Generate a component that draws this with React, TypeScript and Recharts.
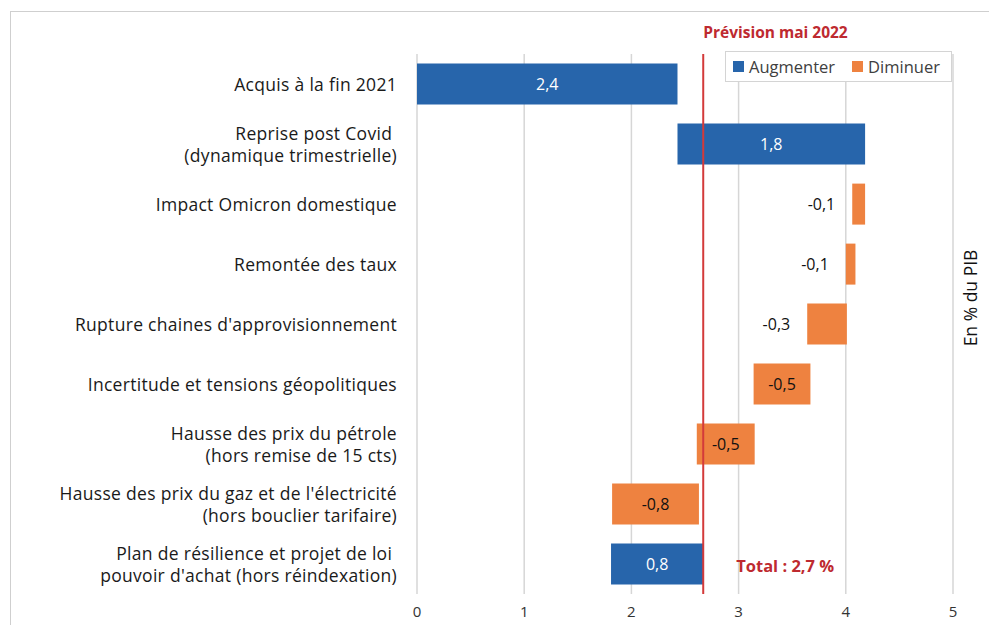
import React from "react";
import {
  BarChart,
  Bar,
  XAxis,
  YAxis,
  CartesianGrid,
  ReferenceLine,
  LabelList,
  Cell,
} from "recharts";

// contributions à la croissance 2022 (en % du PIB)
const categories = [
  "Acquis à la fin 2021",
  "Reprise post Covid \n(dynamique trimestrielle)",
  "Impact Omicron domestique",
  "Remontée des taux",
  "Rupture chaines d'approvisionnement",
  "Incertitude et tensions géopolitiques",
  "Hausse des prix du pétrole\n(hors remise de 15 cts)",
  "Hausse des prix du gaz et de l'électricité\n(hors bouclier tarifaire)",
  "Plan de résilience et projet de loi \npouvoir d'achat (hors réindexation)",
];
const barStart = [0, 2.43, 4.18, 4.09, 4.01, 3.67, 3.15, 2.63, 1.81];
const barEnd = [2.43, 4.18, 4.06, 4.0, 3.64, 3.14, 2.61, 1.82, 2.67];
const valueLabels = ["2,4", "1,8", "-0,1", "-0,1", "-0,3", "-0,5", "-0,5", "-0,8", "0,8"];
const kinds = [
  "Augmenter",
  "Augmenter",
  "Diminuer",
  "Diminuer",
  "Diminuer",
  "Diminuer",
  "Diminuer",
  "Diminuer",
  "Augmenter",
];
const xTicks = [0, 1, 2, 3, 4, 5];
const forecast = 2.67;
const forecastLabel = "Prévision mai 2022";
const totalLabel = "Total : 2,7 %";
const unitLabel = "En % du PIB";

const COLORS: Record<string, string> = { Augmenter: "#2765AB", Diminuer: "#EE8240" };
const RED = "#BE2A30";
const FONT = "'Open Sans', sans-serif";

const data = categories.map((name, i) => ({
  name,
  range: [Math.min(barStart[i], barEnd[i]), Math.max(barStart[i], barEnd[i])],
  kind: kinds[i],
}));

const CategoryTick = (props: any) => {
  const { x, y, payload } = props;
  const lines = String(payload.value).split("\n");
  const lh = 21.5;
  const y0 = y + 1 - ((lines.length - 1) * lh) / 2;
  return (
    <text
      x={x}
      y={y0}
      textAnchor="end"
      fontSize={17.5}
      fontWeight={500}
      letterSpacing={0.3}
      fill="#1a1a1a"
      fontFamily={FONT}
    >
      {lines.map((l, i) => (
        <tspan key={i} x={x} dy={i === 0 ? "0.35em" : lh}>
          {l}
        </tspan>
      ))}
    </text>
  );
};

const ValueLabel = (props: any) => {
  const { x, y, width, height, index } = props;
  const w = Math.abs(width);
  const left = Math.min(x, x + width);
  const inside = w > 45;
  const white = kinds[index] === "Augmenter";
  return (
    <text
      x={inside ? left + w / 2 : left - 17}
      y={y + height / 2}
      dy="0.35em"
      textAnchor={inside ? "middle" : "end"}
      fontSize={16}
      fontFamily={FONT}
      fill={inside && white ? "#ffffff" : "#111111"}
    >
      {valueLabels[index]}
    </text>
  );
};

const ForecastLabel = (props: any) => {
  const { viewBox } = props;
  return (
    <text
      x={viewBox.x}
      y={viewBox.y - 21}
      dy="0.35em"
      fontSize={15.5}
      fontWeight={700}
      fill={RED}
      fontFamily={FONT}
    >
      {forecastLabel}
    </text>
  );
};

const TotalLabel = (props: any) => {
  const { viewBox } = props;
  return (
    <text
      x={viewBox.x + 33}
      y={viewBox.y + viewBox.height - 28}
      dy="0.35em"
      fontSize={16.5}
      fontWeight={700}
      fill={RED}
      fontFamily={FONT}
    >
      {totalLabel}
    </text>
  );
};

const LegendBox = () => (
  <div
    style={{
      position: "absolute",
      left: 725,
      top: 51,
      width: 227,
      height: 31,
      boxSizing: "border-box",
      display: "flex",
      alignItems: "center",
      border: "1.5px solid #d4d4d4",
      background: "#fff",
      paddingLeft: 7,
      fontFamily: FONT,
      fontSize: 16.5,
      color: "#404040",
    }}
  >
    {["Augmenter", "Diminuer"].map((k, i) => (
      <span key={k} style={{ display: "flex", alignItems: "center", marginLeft: i ? 17 : 0 }}>
        <span style={{ width: 11, height: 11, background: COLORS[k], marginRight: 5 }} />
        {k}
      </span>
    ))}
  </div>
);

export default function App() {
  return (
    <div style={{ position: "absolute", left: 0, top: 0, width: 989, height: 625, background: "#fff", overflow: "hidden" }}>
      <div
        style={{
          position: "absolute",
          left: 10,
          top: 11,
          width: 1000,
          height: 640,
          border: "1.5px solid #cfcfcf",
        }}
      />
      <BarChart
        width={989}
        height={625}
        data={data}
        layout="vertical"
        margin={{ top: 54, right: 36, bottom: 1, left: 0 }}
        barCategoryGap="16%"
        style={{ position: "absolute", left: 0, top: 0 }}
      >
        <CartesianGrid horizontal={false} stroke="#d6d6d6" strokeWidth={1.5} />
        <XAxis
          type="number"
          domain={[0, 5]}
          ticks={xTicks}
          axisLine={false}
          tickLine={false}
          tickMargin={6}
          height={30}
          tick={{ fontSize: 15, fill: "#333", fontFamily: FONT }}
        />
        <YAxis
          type="category"
          dataKey="name"
          width={417}
          axisLine={false}
          tickLine={false}
          tickSize={0}
          tickMargin={20}
          interval={0}
          tick={<CategoryTick />}
        />
        <Bar dataKey="range" isAnimationActive={false}>
          {data.map((d, i) => (
            <Cell key={i} fill={COLORS[d.kind]} />
          ))}
          <LabelList dataKey="range" content={<ValueLabel />} />
        </Bar>
        <ReferenceLine x={forecast} stroke="#D33A3A" strokeWidth={2} label={<ForecastLabel />} />
        <ReferenceLine x={forecast} stroke="none" label={<TotalLabel />} />
      </BarChart>
      <LegendBox />
      <div
        style={{
          position: "absolute",
          left: 970,
          top: 298,
          transform: "translate(-50%, -50%) rotate(-90deg)",
          whiteSpace: "nowrap",
          fontFamily: FONT,
          fontSize: 17.5,
          color: "#111",
        }}
      >
        {unitLabel}
      </div>
    </div>
  );
}
